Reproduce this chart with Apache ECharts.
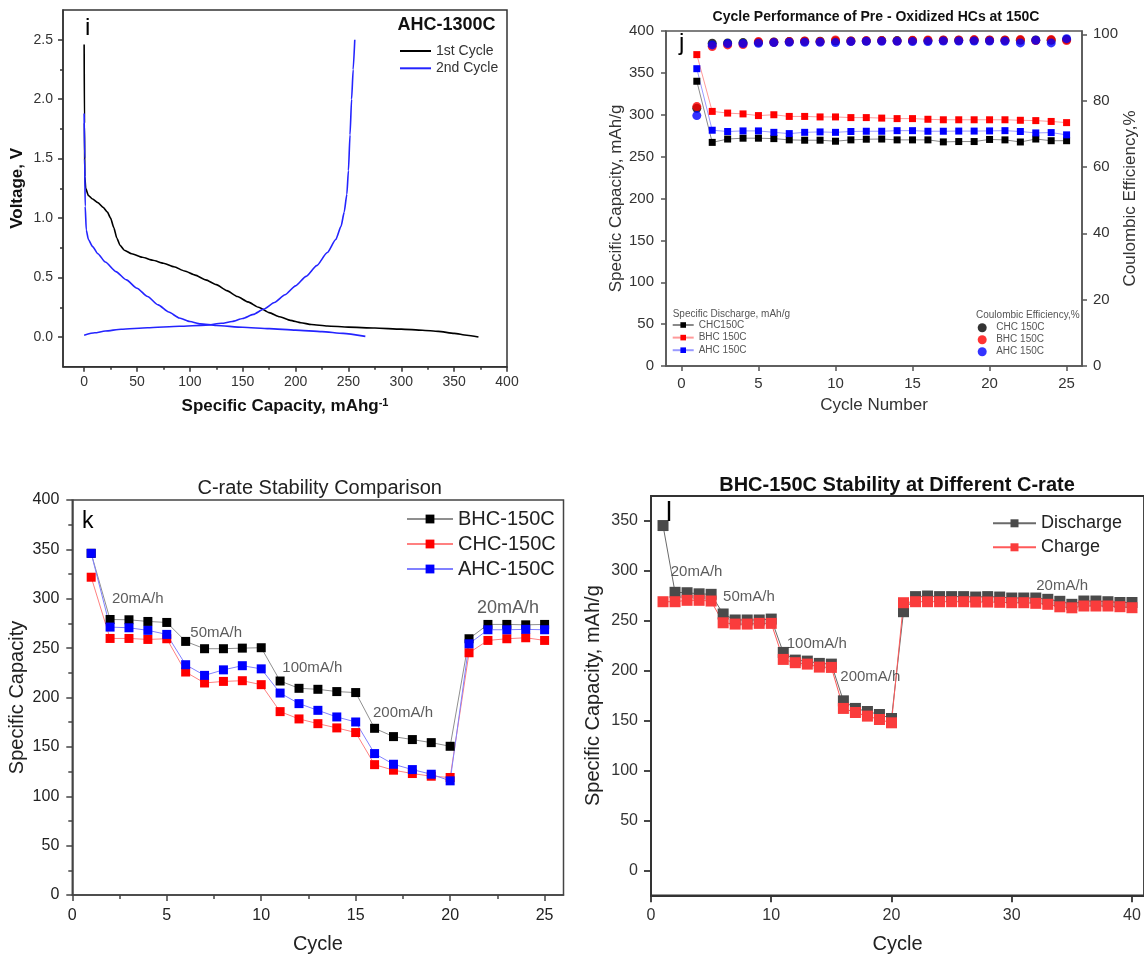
<!DOCTYPE html>
<html><head><meta charset="utf-8">
<script src="https://cdn.jsdelivr.net/npm/echarts@6/dist/echarts.min.js"></script>
<style>html,body{margin:0;padding:0;background:#fff}#c{width:1144px;height:957px}</style>
</head><body><div id="c"></div>
<script>
const FONT = '"Liberation Sans", Arial, Helvetica, sans-serif';

// ---------------- Panel i : AHC-1300C voltage profiles ----------------
const iXTicks = [0, 50, 100, 150, 200, 250, 300, 350, 400];
const iXMinor = [25, 75, 125, 175, 225, 275, 325, 375];
const iYTicks = [0, 0.5, 1.0, 1.5, 2.0, 2.5];
const iYMinor = [0.25, 0.75, 1.25, 1.75, 2.25];
const iCycle1 = [[0,2.46],[0.3,1.8],[0.6,1.35],[1.5,1.25],[4,1.19],[8,1.16],[13,1.13],[18,1.09],[22,1.05],[25,1.0],[28,0.92],[31,0.83],[34,0.77],[38,0.73],[45,0.70],[55,0.67],[65,0.645],[75,0.62],[85,0.59],[95,0.555],[105,0.52],[115,0.48],[125,0.44],[135,0.39],[145,0.34],[155,0.295],[165,0.25],[175,0.205],[185,0.17],[195,0.14],[205,0.12],[215,0.105],[230,0.092],[250,0.083],[275,0.075],[300,0.066],[320,0.057],[335,0.047],[350,0.03],[362,0.015],[373,0.0]];
const iCycle2Dis = [[0,1.88],[0.5,1.5],[1,1.1],[2,0.9],[4,0.82],[8,0.76],[13,0.70],[20,0.63],[30,0.55],[40,0.48],[50,0.41],[60,0.34],[70,0.27],[80,0.21],[90,0.16],[100,0.13],[110,0.11],[125,0.097],[150,0.082],[175,0.07],[200,0.058],[225,0.045],[245,0.03],[266,0.005]];
const iCycle2Chg = [[0,0.015],[10,0.035],[20,0.05],[35,0.065],[60,0.078],[90,0.09],[115,0.1],[130,0.115],[140,0.13],[150,0.155],[160,0.19],[170,0.235],[180,0.29],[190,0.355],[200,0.43],[210,0.51],[220,0.6],[230,0.71],[238,0.82],[243,0.93],[246,1.05],[248.5,1.2],[250,1.4],[251.5,1.7],[253,2.0],[254.5,2.25],[256,2.5]];

// ---------------- Panel j : cycle performance ----------------
const jXTicks = [0, 5, 10, 15, 20, 25];
const jCETicks = [0, 20, 40, 60, 80, 100];
const jCycles = [1,2,3,4,5,6,7,8,9,10,11,12,13,14,15,16,17,18,19,20,21,22,23,24,25];
const jCHC = [340,267,271,272,272,271.5,270,269.6,269.6,268.4,270,270.8,271,270,270,270,267.6,268,268,270.5,270,267.5,271,269,269];
const jBHC = [371.8,304,302,301,299,300,298,298,297.4,297.4,296.6,296.6,296,295.4,295.4,294.6,294,294,294,294,294,293.4,293,292,290.6];
const jAHC = [355,281.5,280,280.7,280.7,279,277.5,279,279.5,279,280,280.3,280.3,281,281,280.3,280.3,280.5,280.5,280.7,281,280,278.3,278.7,276];
const jCE_CHC = [77.7,97.3,97.4,97.5,97.6,97.7,97.8,97.9,97.9,98.0,98.0,98.0,98.1,98.1,98.1,98.1,98.2,98.2,98.2,98.2,98.2,98.2,98.3,98.2,98.4];
const jCE_BHC = [78.2,96.3,96.8,96.9,97.8,97.6,97.8,98.0,97.8,98.3,98.0,98.1,98.1,98.0,98.2,98.3,98.3,98.3,98.4,98.3,98.3,98.4,98.1,98.4,98.1];
const jCE_AHC = [75.5,96.8,97.2,97.2,97.3,97.5,97.6,97.6,97.6,97.5,97.8,97.9,97.9,97.9,97.8,97.8,98.0,98.0,98.0,98.0,97.9,97.4,98.2,97.4,98.7];

// ---------------- Panel k : C-rate comparison ----------------
const kXTicks = [0, 5, 10, 15, 20, 25];
const kXMinor = [2.5, 7.5, 12.5, 17.5, 22.5];
const kYMinor = [25,75,125,175,225,275,325,375];
const kCycles = [1,2,3,4,5,6,7,8,9,10,11,12,13,14,15,16,17,18,19,20,21,22,23,24,25];
const kBHC = [346,279,278.7,277,276,256.8,249.4,249.4,250,250.4,216.7,209.3,208.3,206,205,168.8,160.4,157.4,154.3,150.6,259.5,274,274,273.6,274];
const kCHC = [321.8,259.8,259.8,258.8,259.5,225.8,214.7,216.3,217,213,185.7,178.3,173.5,169.2,164.5,132,126.4,123,120.3,119,245.3,257.8,259.5,260.5,257.8];
const kAHC = [346,271.3,270.6,268,263.9,233.2,222.4,228,232.2,229,204.5,193.8,187,180.3,175.2,143.2,132.4,127,122.3,115.6,254.4,268.6,268.6,269,268.6];
const kNotes = [['20mA/h',2.07,299.4],['50mA/h',6.22,265],['100mA/h',11.09,229.6],['200mA/h',15.89,184],['20mA/h',21.39,290.3]];

// ---------------- Panel l : BHC-150C at different rates ----------------
const lXTicks = [0, 10, 20, 30, 40];
const lYTicks = [0, 50, 100, 150, 200, 250, 300, 350];
const lCycles = [1,2,3,4,5,6,7,8,9,10,11,12,13,14,15,16,17,18,19,20,21,22,23,24,25,26,27,28,29,30,31,32,33,34,35,36,37,38,39,40];
const lDischarge = [345.4,278.5,278.1,277,276.5,256.8,250.8,250.8,250.8,251.7,218.3,210.6,209.6,207.3,206.6,169.8,162.2,159.1,156.1,152.1,259.1,274.2,274.8,274.2,274.2,274.2,273.8,274.2,273.8,272.8,272.8,272.8,271.5,269.5,266.5,269.8,269.8,269.1,268.3,268.3];
const lCharge = [269.1,269.1,270.5,270.5,269.8,248,246.7,246.7,247.4,247.4,211.3,208,206.6,203.6,203.3,162.2,158.1,154.5,151.1,147.8,268.1,269.1,269.1,269.1,269.1,269.1,268.8,268.8,268.5,268.1,268.1,267.5,266.5,264,263,264.8,264.8,264.8,264.1,263.1];
const lNotes = [['20mA/h',1.6,299],['50mA/h',5.95,273.8],['100mA/h',11.25,226.7],['200mA/h',15.7,193.6],['20mA/h',32.0,284.9]];

// ---------------- helpers ----------------
const zip = (xs, ys) => xs.map((x, i) => [x, ys[i]]);

function mainAxis(p) {
  const ax = {
    type: 'value', gridIndex: p.grid, min: p.min, max: p.max, position: p.pos,
    axisLine: { show: true, onZero: false, lineStyle: { color: p.color, width: p.lw } },
    axisTick: { show: true, inside: false, length: p.tl, lineStyle: { color: p.color, width: p.lw } },
    axisLabel: { show: true, fontSize: p.fs, color: p.lc || '#333', fontFamily: FONT, margin: p.margin },
    splitLine: { show: false }, minorTick: { show: false }, minorSplitLine: { show: false }
  };
  if (p.interval != null) ax.interval = p.interval;
  if (p.ticks) { ax.axisTick.customValues = p.ticks; ax.axisLabel.customValues = p.ticks; }
  if (p.formatter) ax.axisLabel.formatter = p.formatter;
  if (p.name) {
    ax.name = p.name; ax.nameLocation = 'middle'; ax.nameGap = p.nameGap;
    ax.nameTextStyle = Object.assign({ fontFamily: FONT, fontSize: p.nfs, color: p.nc || '#222', fontWeight: p.nfw || 'normal' }, p.nts || {});
  }
  return ax;
}
function minorAxis(p) {
  return {
    type: 'value', gridIndex: p.grid, min: p.min, max: p.max, position: p.pos, offset: 0,
    axisLine: { show: false, onZero: false },
    axisTick: { show: true, inside: false, length: p.tl, customValues: p.ticks, lineStyle: { color: p.color, width: p.lw } },
    axisLabel: { show: false }, splitLine: { show: false }
  };
}
function noteSeries(notes, xi, yi, bigLast) {
  return {
    type: 'scatter', xAxisIndex: xi, yAxisIndex: yi, symbolSize: 1, silent: true, z: 10,
    itemStyle: { color: 'rgba(0,0,0,0)' },
    label: { show: true, position: 'right', distance: 0, formatter: q => q.name, fontSize: 15, color: '#333', fontFamily: FONT },
    data: notes.map((n, i) => {
      const d = { name: n[0], value: [n[1], n[2]] };
      if (bigLast && i === notes.length - 1) d.label = { fontSize: 18 };
      return d;
    })
  };
}
function txt(text, x, y, size, opt) {
  opt = opt || {};
  return {
    type: 'text', x: x, y: y, silent: true, z: 20,
    style: {
      text: text, fill: opt.color || '#000',
      font: (opt.weight || 'normal') + ' ' + size + 'px ' + FONT,
      align: opt.align || 'left', textAlign: opt.align || 'left',
      verticalAlign: 'middle', textVerticalAlign: 'middle'
    }
  };
}

const C_I = '#333', C_J = '#555', C_K = '#444', C_L = '#333';

const option = {
  animation: false,
  grid: [
    { left: 63, top: 10, width: 444, height: 356.7, show: true, borderColor: C_I, borderWidth: 1.5 },
    { left: 666, top: 31, width: 416, height: 335, show: true, borderColor: C_J, borderWidth: 1.5 },
    { left: 72.3, top: 500, width: 491.2, height: 395, show: true, borderColor: C_K, borderWidth: 1.5 },
    { left: 651, top: 496, width: 495, height: 399.3, show: true, borderColor: C_L, borderWidth: 1.8 }
  ],
  xAxis: [
    mainAxis({ grid: 0, min: -20, max: 400, pos: 'bottom', ticks: iXTicks, color: C_I, lw: 1.5, tl: 5, fs: 14, margin: 8,
      name: '{t|Specific Capacity, mAhg}{s|-1}', nameGap: 31, nfs: 17, nfw: 'bold',
      nts: { rich: { t: { fontSize: 17, fontWeight: 'bold', fontFamily: FONT, color: '#111' }, s: { fontSize: 11, fontWeight: 'bold', fontFamily: FONT, color: '#111', verticalAlign: 'top' } } } }),
    minorAxis({ grid: 0, min: -20, max: 400, pos: 'bottom', ticks: iXMinor, color: C_I, lw: 1.5, tl: 3 }),
    mainAxis({ grid: 1, min: -1, max: 26, pos: 'bottom', ticks: jXTicks, color: C_J, lw: 1.5, tl: 5, fs: 15, margin: 10,
      name: 'Cycle Number', nameGap: 31, nfs: 17, nc: '#333' }),
    mainAxis({ grid: 2, min: 0, max: 26, pos: 'bottom', ticks: kXTicks, color: C_K, lw: 1.5, tl: 6, fs: 16, lc: '#222', margin: 13,
      name: 'Cycle', nameGap: 39, nfs: 20 }),
    minorAxis({ grid: 2, min: 0, max: 26, pos: 'bottom', ticks: kXMinor, color: C_K, lw: 1.5, tl: 4 }),
    mainAxis({ grid: 3, min: 0, max: 41, pos: 'bottom', ticks: lXTicks, color: C_L, lw: 1.8, tl: 7, fs: 16, margin: 12,
      name: 'Cycle', nameGap: 39, nfs: 20 })
  ],
  yAxis: [
    mainAxis({ grid: 0, min: -0.25, max: 2.75, pos: 'left', ticks: iYTicks, color: C_I, lw: 1.5, tl: 5, fs: 14, margin: 10,
      formatter: v => v.toFixed(1), name: 'Voltage, V', nameGap: 37, nfs: 17, nfw: 'bold', nc: '#111' }),
    minorAxis({ grid: 0, min: -0.25, max: 2.75, pos: 'left', ticks: iYMinor, color: C_I, lw: 1.5, tl: 3 }),
    mainAxis({ grid: 1, min: 0, max: 400, interval: 50, pos: 'left', color: C_J, lw: 1.5, tl: 5, fs: 15, margin: 12,
      name: 'Specific Capacity, mAh/g', nameGap: 38, nfs: 17, nc: '#333' }),
    mainAxis({ grid: 1, min: 0, max: 101, pos: 'right', ticks: jCETicks, color: C_J, lw: 1.5, tl: 5, fs: 15, margin: 11,
      name: 'Coulombic Efficiency,%', nameGap: 40, nfs: 17, nc: '#333' }),
    mainAxis({ grid: 2, min: 0, max: 400, interval: 50, pos: 'left', color: C_K, lw: 1.5, tl: 6, fs: 16, lc: '#222', margin: 13,
      name: 'Specific Capacity', nameGap: 45, nfs: 20 }),
    minorAxis({ grid: 2, min: 0, max: 400, pos: 'left', ticks: kYMinor, color: C_K, lw: 1.5, tl: 4 }),
    mainAxis({ grid: 3, min: -25, max: 375, pos: 'left', ticks: lYTicks, color: C_L, lw: 1.8, tl: 7, fs: 16, margin: 13,
      name: 'Specific Capacity, mAh/g', nameGap: 48, nfs: 20 })
  ],
  legend: [
    { left: 400, top: 44, padding: 0, orient: 'vertical', itemWidth: 31, itemHeight: 2, itemGap: 3.3, icon: 'rect', selectedMode: false,
      textStyle: { fontSize: 14, color: '#333', fontFamily: FONT }, data: ['1st Cycle', '2nd Cycle'] },
    { left: 671.7, top: 320, padding: 0, orient: 'vertical', itemWidth: 21, itemHeight: 7, itemGap: 2.6, selectedMode: false,
      textStyle: { fontSize: 10, color: '#555', fontFamily: FONT }, data: ['CHC150C', 'BHC 150C', 'AHC 150C'] },
    { left: 977.7, top: 322.7, padding: 0, orient: 'vertical', itemWidth: 18, itemHeight: 9, itemGap: 2, selectedMode: false,
      icon: 'circle', formatter: n => n.replace('CE ', ''),
      textStyle: { fontSize: 10, color: '#555', fontFamily: FONT }, data: ['CE CHC 150C', 'CE BHC 150C', 'CE AHC 150C'] },
    { left: 406, top: 509, padding: 0, orient: 'vertical', itemWidth: 46, itemHeight: 11, itemGap: 5, selectedMode: false,
      textStyle: { fontSize: 20, color: '#222', fontFamily: FONT }, data: ['BHC-150C', 'CHC-150C', 'AHC-150C'] },
    { left: 992, top: 514.3, padding: 0, orient: 'vertical', itemWidth: 43, itemHeight: 10, itemGap: 6, selectedMode: false,
      textStyle: { fontSize: 18, color: '#222', fontFamily: FONT }, data: ['Discharge', 'Charge'] }
  ],
  series: [
    // panel i
    { name: '1st Cycle', type: 'line', xAxisIndex: 0, yAxisIndex: 0, data: iCycle1, showSymbol: false, symbol: 'none',
      smooth: 0.2, smoothMonotone: 'x', lineStyle: { color: '#000', width: 1.6 }, itemStyle: { color: '#000' } },
    { name: '2nd Cycle', type: 'line', xAxisIndex: 0, yAxisIndex: 0, data: iCycle2Dis, showSymbol: false, symbol: 'none',
      smooth: 0.2, smoothMonotone: 'x', lineStyle: { color: '#2424ff', width: 1.6 }, itemStyle: { color: '#2424ff' } },
    { name: '2nd Cycle', type: 'line', xAxisIndex: 0, yAxisIndex: 0, data: iCycle2Chg, showSymbol: false, symbol: 'none',
      smooth: 0.2, smoothMonotone: 'x', lineStyle: { color: '#2424ff', width: 1.6 }, itemStyle: { color: '#2424ff' } },
    // panel j capacities
    { name: 'CHC150C', type: 'line', xAxisIndex: 2, yAxisIndex: 2, data: zip(jCycles, jCHC), symbol: 'rect', symbolSize: 7,
      lineStyle: { color: '#8a8a8a', width: 1 }, itemStyle: { color: '#000' } },
    { name: 'BHC 150C', type: 'line', xAxisIndex: 2, yAxisIndex: 2, data: zip(jCycles, jBHC), symbol: 'rect', symbolSize: 7,
      lineStyle: { color: '#ff9a9a', width: 1 }, itemStyle: { color: '#ff0000' } },
    { name: 'AHC 150C', type: 'line', xAxisIndex: 2, yAxisIndex: 2, data: zip(jCycles, jAHC), symbol: 'rect', symbolSize: 7,
      lineStyle: { color: '#9a9aff', width: 1 }, itemStyle: { color: '#0000ff' } },
    // panel j coulombic efficiency
    { name: 'CE CHC 150C', type: 'scatter', xAxisIndex: 2, yAxisIndex: 3, data: zip(jCycles, jCE_CHC), symbol: 'circle', symbolSize: 9,
      itemStyle: { color: '#000' } },
    { name: 'CE BHC 150C', type: 'scatter', xAxisIndex: 2, yAxisIndex: 3, data: zip(jCycles, jCE_BHC), symbol: 'circle', symbolSize: 9,
      itemStyle: { color: '#ff0000' } },
    { name: 'CE AHC 150C', type: 'scatter', xAxisIndex: 2, yAxisIndex: 3, data: zip(jCycles, jCE_AHC), symbol: 'circle', symbolSize: 9,
      itemStyle: { color: '#0000ff' } },
    // panel k
    { name: 'BHC-150C', type: 'line', xAxisIndex: 3, yAxisIndex: 4, data: zip(kCycles, kBHC), symbol: 'rect', symbolSize: 9,
      lineStyle: { color: '#8f8f8f', width: 1 }, itemStyle: { color: '#000' } },
    { name: 'CHC-150C', type: 'line', xAxisIndex: 3, yAxisIndex: 4, data: zip(kCycles, kCHC), symbol: 'rect', symbolSize: 9,
      lineStyle: { color: '#ff8080', width: 1 }, itemStyle: { color: '#ff0000' } },
    { name: 'AHC-150C', type: 'line', xAxisIndex: 3, yAxisIndex: 4, data: zip(kCycles, kAHC), symbol: 'rect', symbolSize: 9,
      lineStyle: { color: '#8080ff', width: 1 }, itemStyle: { color: '#0000ff' } },
    noteSeries(kNotes, 3, 4, true),
    // panel l
    { name: 'Discharge', type: 'line', xAxisIndex: 5, yAxisIndex: 6, data: zip(lCycles, lDischarge), symbol: 'rect', symbolSize: 11,
      lineStyle: { color: '#6a6a6a', width: 1 }, itemStyle: { color: '#4a4a4a' } },
    { name: 'Charge', type: 'line', xAxisIndex: 5, yAxisIndex: 6, data: zip(lCycles, lCharge), symbol: 'rect', symbolSize: 11,
      lineStyle: { color: '#ff5a5a', width: 1 }, itemStyle: { color: '#fa3c3c' } },
    noteSeries(lNotes, 5, 6, false)
  ],
  graphic: [
    txt('i', 85, 28.5, 24),
    txt('AHC-1300C', 397.5, 25, 18, { weight: 'bold', color: '#111' }),
    txt('Cycle Performance of Pre - Oxidized HCs at 150C', 876, 17.3, 14, { weight: 'bold', align: 'center', color: '#111' }),
    txt('j', 679, 43, 24),
    txt('Specific Discharge, mAh/g', 672.7, 314, 10, { color: '#555' }),
    txt('Coulombic Efficiency,%', 976, 315, 10, { color: '#555' }),
    txt('C-rate Stability Comparison', 319.7, 488, 20, { align: 'center', color: '#222' }),
    txt('k', 82, 521.7, 23),
    txt('BHC-150C Stability at Different C-rate', 897, 485, 20, { weight: 'bold', align: 'center', color: '#111' }),
    txt('l', 666, 513.3, 27)
  ]
};

const chart = echarts.init(document.getElementById('c'), null, { renderer: 'canvas' });
chart.setOption(option);
</script>
</body></html>
